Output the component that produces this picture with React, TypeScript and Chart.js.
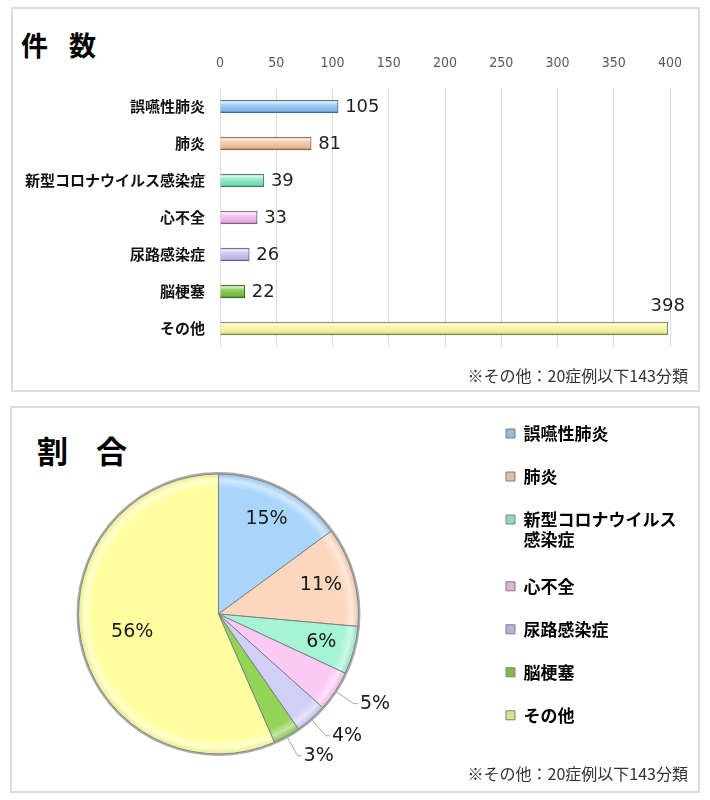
import React, { useEffect, useRef } from 'react';
import { Chart, registerables } from 'chart.js';

Chart.register(...registerables);

// ---- data ----
const categories = ['誤嚥性肺炎', '肺炎', '新型コロナウイルス感染症', '心不全', '尿路感染症', '脳梗塞', 'その他'];
const legendLabels = ['誤嚥性肺炎', '肺炎', '新型コロナウイルス\n感染症', '心不全', '尿路感染症', '脳梗塞', 'その他'];
const counts = [105, 81, 39, 33, 26, 22, 398];
const shareLabels = ['15%', '11%', '6%', '5%', '4%', '3%', '56%'];
const xMin = 0;
const xMax = 400;
const xStep = 50;
const barColors = ['#8cc2f0', '#f2c09c', '#80e6bc', '#f2b4ee', '#c0c0f0', '#7cc447', '#f4f49c'];
const pieColors = ['#a9d5fb', '#fdd7bd', '#a6f4d6', '#fbcaf4', '#cfcff8', '#92d456', '#ffffa1'];
const titleCount = '件　数';
const titleShare = '割　合';
const note = '※その他：20症例以下143分類';

const JP = '"Noto Sans CJK JP", "Noto Sans", sans-serif';
const NUM = '"DejaVu Sans", sans-serif';

function hexToRgb(h: string) {
  const n = parseInt(h.slice(1), 16);
  return [(n >> 16) & 255, (n >> 8) & 255, n & 255];
}
function mix(h: string, target: number[], t: number) {
  const c = hexToRgb(h);
  const r = c.map((v, i) => Math.round(v + (target[i] - v) * t));
  return `rgb(${r[0]},${r[1]},${r[2]})`;
}
const lighten = (h: string, t: number) => mix(h, [255, 255, 255], t);
const darken = (h: string, t: number) => mix(h, [0, 0, 0], t);

const barValuePlugin = {
  id: 'barValues',
  afterDatasetsDraw(chart: any) {
    const ctx = chart.ctx;
    const area = chart.chartArea;
    const meta = chart.getDatasetMeta(0);
    ctx.save();
    ctx.font = `18px ${NUM}`;
    ctx.fillStyle = '#1f1f1f';
    ctx.textBaseline = 'middle';
    meta.data.forEach((el: any, i: number) => {
      const t = String(counts[i]);
      const w = ctx.measureText(t).width;
      const { x, y } = el.getProps(['x', 'y'], true);
      if (x + 8 + w > area.right) {
        ctx.textAlign = 'center';
        ctx.fillText(t, x, y - 22);
      } else {
        ctx.textAlign = 'left';
        ctx.fillText(t, x + 7, y + 1);
      }
    });
    ctx.restore();
  },
};

const pieDecorPlugin = {
  id: 'pieDecor',
  afterDatasetsDraw(chart: any) {
    const ctx = chart.ctx;
    const meta = chart.getDatasetMeta(0);
    if (!meta.data.length) return;
    const first = meta.data[0];
    const { x: cx, y: cy, outerRadius: R } = first.getProps(['x', 'y', 'outerRadius'], true);
    ctx.save();
    ctx.beginPath();
    ctx.arc(cx, cy, R + 1, 0, Math.PI * 2);
    ctx.strokeStyle = 'rgba(140,140,140,0.75)';
    ctx.lineWidth = 2;
    ctx.stroke();
    ctx.font = `19px ${NUM}`;
    ctx.fillStyle = '#1a1a1a';
    ctx.textBaseline = 'middle';
    const total = counts.reduce((a, b) => a + b, 0);
    meta.data.forEach((el: any, i: number) => {
      const { startAngle, endAngle } = el.getProps(['startAngle', 'endAngle'], true);
      const mid = (startAngle + endAngle) / 2;
      const frac = counts[i] / total;
      const t = shareLabels[i];
      if (frac >= 0.055) {
        const r = frac > 0.4 ? 0.63 * R : 0.76 * R;
        ctx.textAlign = 'center';
        ctx.fillText(t, cx + Math.cos(mid) * r, cy + Math.sin(mid) * r);
      } else {
        const ex = cx + Math.cos(mid) * R;
        const ey = cy + Math.sin(mid) * R;
        const ax = cx + Math.cos(mid) * R * 1.16;
        const ay = cy + Math.sin(mid) * R * 1.16;
        ctx.beginPath();
        ctx.moveTo(ex, ey);
        ctx.lineTo(ax, ay);
        ctx.lineTo(ax + 4, ay);
        ctx.strokeStyle = '#a6a6a6';
        ctx.lineWidth = 1;
        ctx.stroke();
        ctx.textAlign = 'left';
        ctx.fillText(t, ax + 6, ay);
      }
    });
    ctx.restore();
  },
};

function BarPanel() {
  const ref = useRef<HTMLCanvasElement>(null);
  useEffect(() => {
    const chart = new Chart(ref.current as HTMLCanvasElement, {
      type: 'bar',
      data: {
        labels: categories,
        datasets: [
          {
            data: counts,
            barThickness: 13,
            borderWidth: 1,
            borderColor: barColors.map((c) => darken(c, 0.5)),
            backgroundColor: (c: any) => {
              const base = barColors[c.dataIndex] || barColors[0];
              const chart = c.chart;
              const ys = chart.scales && chart.scales.y;
              if (!chart.chartArea || !ys || c.dataIndex === undefined) return base;
              const yc = ys.getPixelForValue(c.dataIndex);
              const g = chart.ctx.createLinearGradient(0, yc - 6.5, 0, yc + 6.5);
              g.addColorStop(0, darken(base, 0.15));
              g.addColorStop(0.15, lighten(base, 0.75));
              g.addColorStop(0.35, lighten(base, 0.25));
              g.addColorStop(0.6, base);
              g.addColorStop(0.82, darken(base, 0.05));
              g.addColorStop(1, darken(base, 0.4));
              return g;
            },
          },
        ],
      },
      options: {
        indexAxis: 'y',
        responsive: false,
        animation: false,
        layout: { padding: { top: 40, right: 29, bottom: 44, left: 0 } },
        plugins: { legend: { display: false }, tooltip: { enabled: false } },
        scales: {
          x: {
            position: 'top',
            min: xMin,
            max: xMax,
            ticks: {
              stepSize: xStep,
              padding: 16,
              color: '#595959',
              font: { family: '"Liberation Sans Narrow", "DejaVu Sans Condensed", sans-serif', size: 14 },
            },
            grid: { color: '#d9d9d9', drawTicks: false, lineWidth: 1 },
            border: { display: false },
            afterFit: (s: any) => {
              s.height = 40;
            },
          },
          y: {
            ticks: {
              padding: 15,
              color: '#111111',
              font: { family: JP, size: 15, weight: 'bold' },
            },
            grid: { display: false, drawTicks: false },
            border: { display: false },
            afterFit: (s: any) => {
              s.width = 208;
            },
          },
        },
      },
      plugins: [barValuePlugin],
    } as any);
    return () => chart.destroy();
  }, []);
  return (
    <canvas
      ref={ref}
      width={687}
      height={383}
      style={{ position: 'absolute', left: 12, top: 8, width: 687, height: 383 }}
    />
  );
}

function PiePanel() {
  const ref = useRef<HTMLCanvasElement>(null);
  useEffect(() => {
    const chart = new Chart(ref.current as HTMLCanvasElement, {
      type: 'pie',
      data: {
        labels: categories,
        datasets: [
          {
            data: counts,
            borderColor: '#808080',
            borderWidth: 1,
            backgroundColor: (c: any) => {
              const base = pieColors[c.dataIndex] || pieColors[0];
              const chart = c.chart;
              const a = chart.chartArea;
              if (!a || c.dataIndex === undefined) return base;
              const cx = (a.left + a.right) / 2;
              const cy = (a.top + a.bottom) / 2;
              const R = 140;
              const g = chart.ctx.createRadialGradient(cx, cy, 0, cx, cy, R);
              g.addColorStop(0, base);
              g.addColorStop(0.9, base);
              g.addColorStop(0.955, lighten(base, 0.45));
              g.addColorStop(1, darken(base, 0.08));
              return g;
            },
          },
        ],
      },
      options: {
        responsive: false,
        animation: false,
        radius: 140,
        layout: { padding: { top: 0, right: 12.5, bottom: 0, left: 0 } },
        plugins: {
          tooltip: { enabled: false },
          legend: {
            position: 'right',
            align: 'start',
            labels: {
              boxWidth: 9,
              boxHeight: 9,
              padding: 26,
              color: '#000000',
              font: { family: JP, size: 17, weight: 'bold', lineHeight: 1.2 },
              generateLabels: () =>
                legendLabels.map((s, i) => ({
                  text: s.includes('\n') ? s.split('\n') : s,
                  fillStyle: darken(pieColors[i], 0.12),
                  strokeStyle: '#7f7f7f',
                  lineWidth: 1,
                  hidden: false,
                  index: i,
                })),
            },
          },
        },
      },
      plugins: [pieDecorPlugin],
    } as any);
    return () => chart.destroy();
  }, []);
  return (
    <canvas
      ref={ref}
      width={742}
      height={430}
      style={{ position: 'absolute', left: -43, top: 399, width: 742, height: 430 }}
    />
  );
}

export default function App() {
  const panel = (left: number, top: number, w: number, h: number): React.CSSProperties => ({
    position: 'absolute',
    left,
    top,
    width: w,
    height: h,
    boxSizing: 'border-box',
    border: '2px solid #dcdcdc',
    background: '#ffffff',
  });
  const title = (left: number, top: number, size: number, ls: number): React.CSSProperties => ({
    position: 'absolute',
    left,
    top,
    fontFamily: JP,
    fontWeight: 'bold',
    fontSize: size,
    lineHeight: `${size}px`,
    letterSpacing: ls,
    color: '#000',
    whiteSpace: 'nowrap',
  });
  const noteStyle = (top: number): React.CSSProperties => ({
    position: 'absolute',
    right: 22,
    top,
    fontFamily: JP,
    fontSize: 16,
    lineHeight: '16px',
    color: '#333333',
    whiteSpace: 'nowrap',
  });
  return (
    <div
      style={{
        position: 'absolute',
        left: 0,
        top: 0,
        width: 710,
        height: 800,
        overflow: 'hidden',
        background: '#ffffff',
      }}
    >
      <div style={panel(11, 7, 689, 385)} />
      <div style={panel(10, 406, 690, 387)} />
      <div style={title(21, 31, 27, -3)}>{titleCount}</div>
      <div style={title(37, 434, 31, -1.5)}>{titleShare}</div>
      <BarPanel />
      <PiePanel />
      <div style={noteStyle(367)}>{note}</div>
      <div style={noteStyle(765)}>{note}</div>
    </div>
  );
}
